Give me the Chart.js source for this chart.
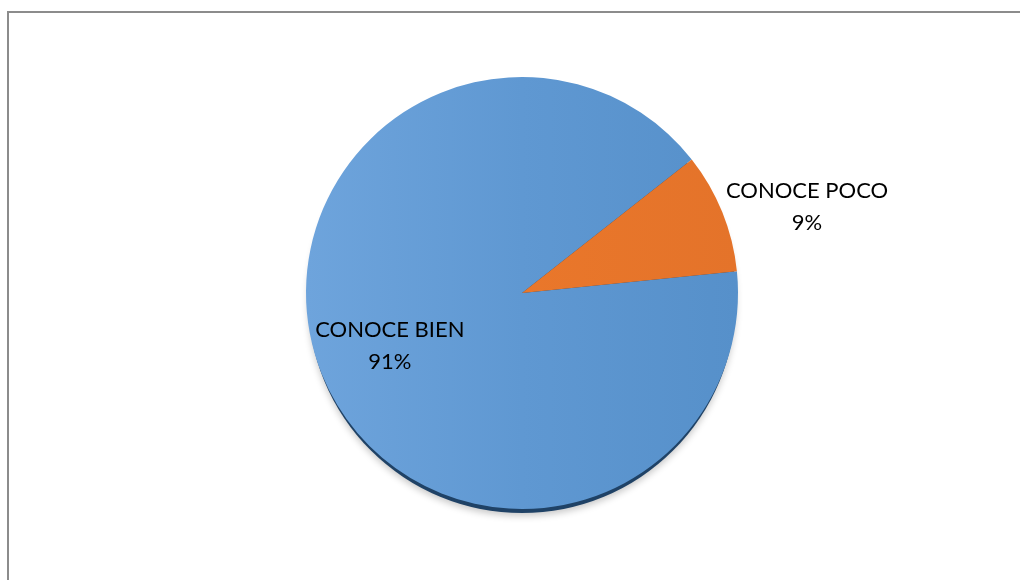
<!DOCTYPE html>
<html>
<head>
<meta charset="utf-8">
<script src="https://cdn.jsdelivr.net/npm/chart.js@4/dist/chart.umd.min.js"></script>
<style>
html,body{margin:0;padding:0;background:#fff;overflow:hidden;}
#frame{position:absolute;left:7px;top:11px;width:1030px;height:600px;border-left:2px solid #8c8c8c;border-top:2px solid #8c8c8c;}
#wrap{position:absolute;left:0;top:0;width:1020px;height:580px;}
</style>
</head>
<body>
<div id="frame"></div>
<div id="wrap"><canvas id="c" width="1020" height="580"></canvas></div>
<script>
const categories = ["CONOCE BIEN", "CONOCE POCO"];
const values = [91, 9];
const percentLabels = ["91%", "9%"];

const labelPlacement = [
  {dist: 0.66, angleShift: 0.0},
  {dist: 1.378, angleShift: 0.092}
];

const shadowPlugin = {
  id: 'shadow',
  beforeDatasetsDraw(chart) {
    const arc = chart.getDatasetMeta(0).data[0];
    if (!arc) return;
    const ctx = chart.ctx;
    ctx.save();
    ctx.shadowColor = 'rgba(0,0,0,0.22)';
    ctx.shadowBlur = 7;
    ctx.shadowOffsetY = 3;
    ctx.fillStyle = '#1f4266';
    ctx.beginPath();
    ctx.arc(arc.x, arc.y + 6, arc.outerRadius - 2, 0, Math.PI * 2);
    ctx.fill();
    ctx.restore();
  }
};

const labelPlugin = {
  id: 'sliceLabels',
  afterDatasetsDraw(chart) {
    const ctx = chart.ctx;
    const meta = chart.getDatasetMeta(0);
    ctx.save();
    ctx.font = '22px Lato, "Open Sans", sans-serif';
    ctx.fillStyle = '#000';
    ctx.textAlign = 'center';
    ctx.textBaseline = 'middle';
    meta.data.forEach((arc, i) => {
      const mid = (arc.startAngle + arc.endAngle) / 2 + labelPlacement[i].angleShift;
      const r = arc.outerRadius * labelPlacement[i].dist;
      const x = arc.x + Math.cos(mid) * r;
      const y = arc.y + Math.sin(mid) * r;
      ctx.fillText(categories[i], x, y - 16);
      ctx.fillText(percentLabels[i], x, y + 16);
    });
    ctx.restore();
  }
};

function fillFor(context) {
  const chart = context.chart;
  const area = chart.chartArea;
  if (!area) return null;
  const ctx = chart.ctx;
  const g = ctx.createLinearGradient(area.left, 0, area.right, 0);
  if (context.dataIndex === 0) {
    g.addColorStop(0, '#6ea4dc');
    g.addColorStop(0.5, '#5f98d2');
    g.addColorStop(1, '#5690ca');
  } else {
    g.addColorStop(0, '#ef7b2b');
    g.addColorStop(1, '#e4732a');
  }
  return g;
}

new Chart(document.getElementById('c'), {
  type: 'pie',
  data: {
    labels: categories,
    datasets: [{
      data: values,
      backgroundColor: fillFor,
      borderWidth: 0
    }]
  },
  options: {
    responsive: false,
    animation: false,
    rotation: 84.2,
    layout: {padding: {left: 306, right: 282, top: 77, bottom: 71}},
    plugins: {legend: {display: false}, tooltip: {enabled: false}}
  },
  plugins: [shadowPlugin, labelPlugin]
});
</script>
</body>
</html>
